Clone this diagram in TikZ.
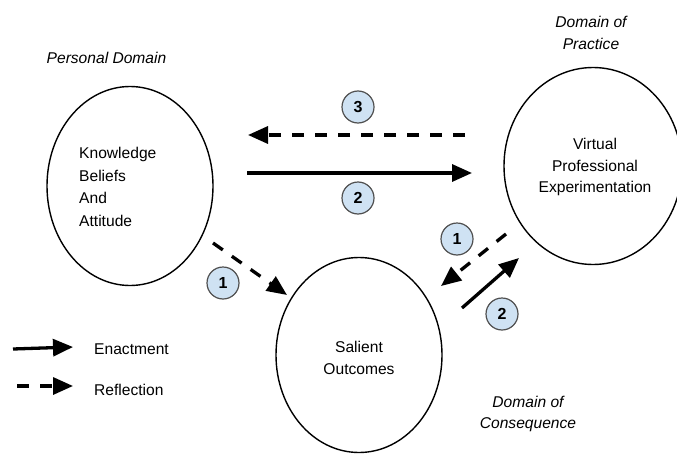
\documentclass[tikz,border=0pt]{standalone}
\usepackage{fontspec}
\setmainfont{Liberation Sans}
\usetikzlibrary{arrows.meta,shapes.geometric}
\definecolor{badgefill}{HTML}{CFE2F3}
\definecolor{badgeline}{HTML}{505050}
\begin{document}
\begin{tikzpicture}[x=1pt,y=-1pt,
  txt/.style={inner sep=0pt, font=\fontsize{15.6}{22}\selectfont},
  domainshape/.style={ellipse, draw, line width=1.4pt, inner sep=0pt},
  badge/.style={circle, draw=badgeline, fill=badgefill, line width=1.2pt, minimum size=32pt, inner sep=0pt, font=\fontsize{16}{16}\selectfont\bfseries},
  enact/.style={line width=3.3pt, -{Triangle[length=20pt,width=17pt]}},
  reflect/.style={enact, dash pattern=on 12pt off 11pt},
  domlabel/.style={inner sep=0pt, align=center, font=\fontsize{15.6}{21.5}\selectfont\itshape}
]
\clip (0,0) rectangle (677,455);
\fill[white] (0,0) rectangle (677,455);

% domains
\node[domainshape, minimum width=166pt, minimum height=199pt] (K) at (130,186) {};
\node[domainshape, minimum width=178pt, minimum height=197pt] (V) at (593,166) {};
\node[domainshape, minimum width=166pt, minimum height=195pt] (S) at (359,355) {};

% texts inside
\node[txt, anchor=west, align=left, font=\fontsize{15.6}{22.5}\selectfont] (Kt) at (79,187) {Knowledge\\Beliefs\\And\\Attitude};
\node[txt, align=center, font=\fontsize{15.6}{21.5}\selectfont] (Vt) at (595,167) {Virtual\\Professional\\Experimentation};
\node[txt, align=center, font=\fontsize{15.6}{22}\selectfont] (St) at (359,358) {Salient\\Outcomes};

% domain labels
\node[domlabel] (pd) at (106.5,58) {Personal Domain};
\node[domlabel] (dp) at (591,33) {Domain of\\Practice};
\node[domlabel] (dc) at (528,414) {Domain of\\Consequence};

% arrow end points
\coordinate (r3a) at (465,135);
\coordinate (r3b) at (248,135);
\coordinate (e2a) at (247,173);
\coordinate (e2b) at (472,173);
\coordinate (r1a) at (213,243);
\coordinate (r1b) at (287,295);
\coordinate (r1c) at (506,234);
\coordinate (r1d) at (441,286);
\coordinate (e2c) at (462,308);
\coordinate (e2d) at (519,258);

\draw[reflect] (r3a) -- (r3b);
\draw[enact] (e2a) -- (e2b);
\draw[reflect] (r1a) -- (r1b);
\draw[reflect] (r1c) -- (r1d);
\draw[enact] (e2c) -- (e2d);

% badges
\node[badge] (b3) at (358,107) {3};
\node[badge] (b2t) at (358,198) {2};
\node[badge] (b1l) at (223,283) {1};
\node[badge] (b1r) at (457,239) {1};
\node[badge] (b2r) at (502,314) {2};

% legend
\coordinate (le1) at (13,349);
\coordinate (le2) at (73,347);
\coordinate (lr1) at (17,386);
\coordinate (lr2) at (73,386);
\draw[enact] (le1) -- (le2);
\draw[reflect] (lr1) -- (lr2);
\node[txt, anchor=west] (len) at (94,349) {Enactment};
\node[txt, anchor=west] (lre) at (94,390) {Reflection};
\end{tikzpicture}
\end{document}
